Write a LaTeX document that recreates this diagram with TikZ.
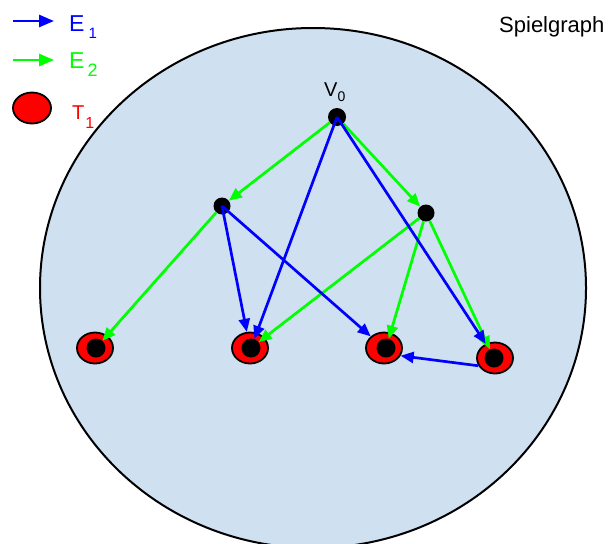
\documentclass[tikz,border=0pt]{standalone}
\usepackage{fontspec}
\setmainfont{Liberation Sans}
\usetikzlibrary{arrows.meta,shapes.geometric}
\definecolor{bg}{RGB}{207,224,241}
\definecolor{eblue}{RGB}{0,0,255}
\definecolor{egreen}{RGB}{0,255,0}
\begin{document}
\begin{tikzpicture}[x=1pt,y=-1pt,
  vtx/.style={circle,fill=black,inner sep=0pt,minimum size=18pt},
  tout/.style={ellipse,draw=black,line width=1.8pt,fill=red,inner sep=0pt,minimum width=36pt,minimum height=31pt},
  tin/.style={circle,fill=black,inner sep=0pt,minimum size=19pt},
  ar/.style={line width=2.7pt,-{Triangle[length=13pt,width=11pt]}},
  eb/.style={ar,draw=eblue},
  eg/.style={ar,draw=egreen},
  lar/.style={line width=2.7pt,-{Triangle[length=15pt,width=12pt]}},
  lbl/.style={anchor=base west,inner sep=0pt,font=\fontsize{21}{21}\selectfont}
]
\useasboundingbox (0,0) rectangle (609,543);
\begin{scope}
\clip (0,0) rectangle (609,543);
\node[ellipse,draw=black,line width=2pt,fill=bg,minimum width=546pt,minimum height=520pt,inner sep=0pt] (world) at (313,288) {};
\end{scope}
% legend
\coordinate (l1a) at (13,21); \coordinate (l1b) at (54,21);
\coordinate (l2a) at (13,60); \coordinate (l2b) at (54,60);
\draw[lar,draw=eblue] (l1a) -- (l1b);
\draw[lar,draw=egreen] (l2a) -- (l2b);
\node[lbl,text=eblue,font=\fontsize{23}{23}\selectfont] (le1) at (69,32) {E\hspace{4pt}\raisebox{-6pt}{\fontsize{15}{15}\selectfont 1}};
\node[lbl,text=egreen,font=\fontsize{23}{23}\selectfont] (le2) at (69,68) {E\hspace{3pt}\raisebox{-8pt}{\fontsize{18}{18}\selectfont 2}};
\node[tout,minimum width=38pt,minimum height=31pt] (lt) at (32,108) {};
\node[lbl,text=red,font=\fontsize{20}{20}\selectfont] (lt1) at (72,119) {T\hspace{1pt}\raisebox{-9pt}{\fontsize{16}{16}\selectfont 1}};
\node[lbl,font=\fontsize{22}{22}\selectfont] (title) at (499,33) {Spielgraph};
% vertices
\node[vtx] (V0) at (337,117) {};
\node[lbl,font=\fontsize{20}{20}\selectfont] (v0l) at (324,96) {V\raisebox{-5pt}{\fontsize{14}{14}\selectfont 0}};
\node[vtx,minimum size=17pt] (A) at (222,206) {};
\node[vtx,minimum size=17pt] (B) at (426,213) {};
\node[tout] (T1o) at (95,348) {};
\node[tin] (T1) at (96,348) {};
\node[tout] (T2o) at (250,348) {};
\node[tin] (T2) at (251,348) {};
\node[tout] (T3o) at (384,348) {};
\node[tin] (T3) at (386,348) {};
\node[tout] (T4o) at (495,358) {};
\node[tin] (T4) at (494,358) {};
% green edges
\draw[eg] (V0) -- (A);
\draw[eg] (V0) -- (B);
\draw[eg] (A) -- (T1);
\draw[eg] (B) -- (T2);
\draw[eg] (B) -- (T3);
\draw[eg] (B) -- (T4);
% blue edges
\draw[eb] (V0.center) -- (T2);
\draw[eb] (V0.center) -- (T4o);
\draw[eb] (A.center) -- (T2o);
\draw[eb] (A.center) -- (T3o);
\draw[eb] (T4o.205) -- (T3o.-25);
\end{tikzpicture}
\end{document}
